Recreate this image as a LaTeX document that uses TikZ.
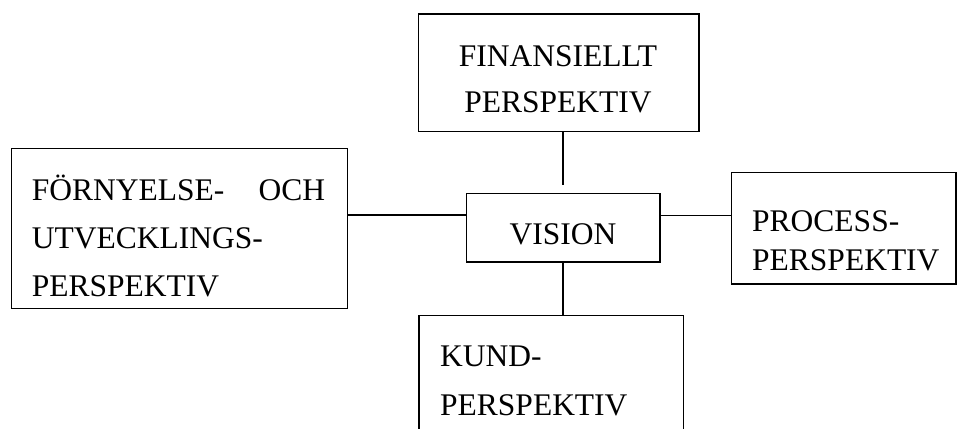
\documentclass[tikz,border=0pt]{standalone}
\usepackage{fontspec}
\setmainfont{Liberation Serif}
\begin{document}
\begin{tikzpicture}[x=1pt,y=-1pt,
  box/.style={draw,line width=1.2pt,rectangle,inner sep=0pt},
  lbl/.style={inner sep=0pt,font=\fontsize{31.5}{38}\selectfont},
  conn/.style={line width=1.2pt}]
\useasboundingbox (0,0) rectangle (960,428);
\node[box,minimum width=280.3pt,minimum height=117.7pt] (fin) at (558.85,72.85) {};
\node[box,minimum width=193.3pt,minimum height=68.7pt] (vis) at (563.35,227.65) {};
\node[box,minimum width=336pt,minimum height=160pt] (forn) at (179.7,228.3) {};
\node[box,minimum width=224.5pt,minimum height=111.5pt] (proc) at (843.75,228.25) {};
\node[box,minimum width=264.3pt,minimum height=124.7pt] (kund) at (551.15,377.65) {};
% texts
\node[lbl,anchor=base] (fin1) at (558,66.7) {FINANSIELLT};
\node[lbl,anchor=base] (fin2) at (558,112.7) {PERSPEKTIV};
\node[lbl,anchor=base west] (forn1) at (31.7,200.7) {\hbox to 293.3pt{FÖRNYELSE-\hfill OCH}};
\node[lbl,anchor=base west] (forn2) at (31.7,248.3) {UTVECKLINGS-};
\node[lbl,anchor=base west] (forn3) at (31.7,296.7) {PERSPEKTIV};
\node[lbl,anchor=base] (vis1) at (563,244) {VISION};
\node[lbl,anchor=base west] (proc1) at (752,231.7) {PROCESS-};
\node[lbl,anchor=base west] (proc2) at (752,270) {PERSPEKTIV};
\node[lbl,anchor=base west] (kund1) at (440,366.7) {KUND-};
\node[lbl,anchor=base west] (kund2) at (440,415) {PERSPEKTIV};
% connectors
\coordinate (vtop) at (563,185);
\draw[conn] (fin.south -| vtop) -- (vtop);
\draw[conn] (forn.east |- 0,215) -- (vis.west |- 0,215);
\draw[conn] (vis.east |- 0,215.5) -- (proc.west |- 0,215.5);
\draw[conn] (vis.south -| 563,0) -- (kund.north -| 563,0);
\end{tikzpicture}
\end{document}
